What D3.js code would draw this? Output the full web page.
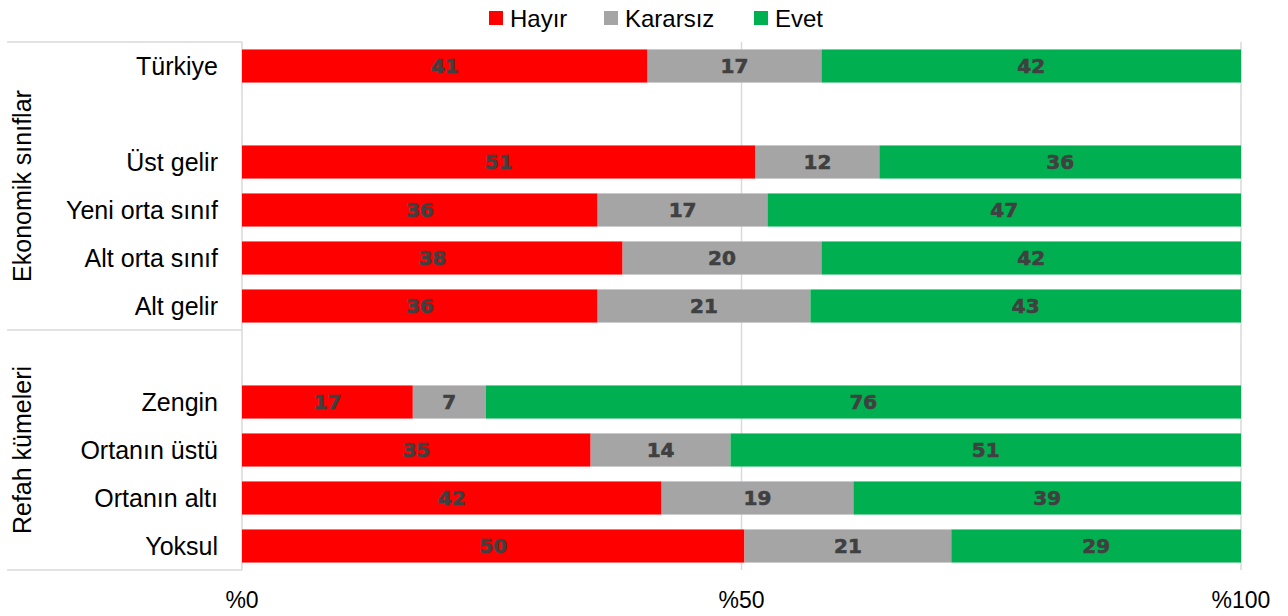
<!DOCTYPE html>
<html>
<head>
<meta charset="utf-8">
<script src="https://cdn.jsdelivr.net/npm/d3@7"></script>
<style>
  body { margin: 0; background: #fff; }
  text { font-family: "Liberation Sans", Arial, sans-serif; }
</style>
</head>
<body>
<div class="chart"></div>
<script>
// rows of the chart, top to bottom (blank slots are added between groups)
var categories = ["Türkiye", "Üst gelir", "Yeni orta sınıf", "Alt orta sınıf", "Alt gelir",
                  "Zengin", "Ortanın üstü", "Ortanın altı", "Yoksul"];
// shares in percent (labels show them rounded)
var hayir    = [40.6, 51.4, 35.6, 38.1, 35.6, 17.1, 34.9, 42.0, 50.3];
var kararsiz = [17.4, 12.4, 17.0, 19.9, 21.3,  7.3, 14.0, 19.2, 20.7];
var evet     = [42.0, 36.2, 47.4, 42.0, 43.1, 75.6, 51.1, 38.8, 29.0];

var seriesNames = ["Hayır", "Kararsız", "Evet"];
var seriesColors = ["#ff0000", "#a5a5a5", "#00b050"];
var groupNames = ["Ekonomik sınıflar", "Refah kümeleri"];
var xTicks = [0, 0.5, 1];
var xTickLabels = ["%0", "%50", "%100"];

var width = 1288, height = 616;
var margin = {top: 42, right: 47, bottom: 46, left: 242};

// slot order with empty rows between blocks
var slots = [categories[0], "gap1", categories[1], categories[2], categories[3], categories[4],
             "gap2", categories[5], categories[6], categories[7], categories[8]];

var rows = categories.map((c, i) => ({cat: c, Hayır: hayir[i], Kararsız: kararsiz[i], Evet: evet[i]}));

var x = d3.scaleLinear()
  .domain([0, 1])
  .range([margin.left, width - margin.right]);

var y = d3.scaleBand()
  .domain(slots)
  .range([margin.top, height - margin.bottom])
  .paddingInner(0.31)
  .paddingOuter(0.155);

var stack = d3.stack()
  .keys(seriesNames)
  .offset(d3.stackOffsetExpand);
var stacked = stack(rows);

var svg = d3.select(".chart").append("svg")
  .attr("width", width)
  .attr("height", height);

// slot top edge
var slotTop = key => y(key) - y.step() * y.paddingInner() / 2;
var top0 = slotTop(slots[0]);
var sep = slotTop("gap2");
var bottom = height - margin.bottom;

// gridlines
svg.append("g").selectAll("line")
  .data(xTicks)
  .enter().append("line")
    .attr("x1", d => x(d)).attr("x2", d => x(d))
    .attr("y1", top0).attr("y2", bottom)
    .attr("stroke", "#d9d9d9")
    .attr("stroke-width", 1.5);

// left category frame lines
svg.append("g").selectAll("line")
  .data([top0, sep, bottom])
  .enter().append("line")
    .attr("x1", 7).attr("x2", margin.left)
    .attr("y1", d => d).attr("y2", d => d)
    .attr("stroke", "#d9d9d9")
    .attr("stroke-width", 1.5);

// bars
var layer = svg.append("g").selectAll("g")
  .data(stacked)
  .enter().append("g")
    .attr("fill", (d, i) => seriesColors[i]);

layer.selectAll("rect")
  .data(d => d)
  .enter().append("rect")
    .attr("x", d => x(d[0]))
    .attr("width", d => x(d[1]) - x(d[0]))
    .attr("y", d => y(d.data.cat))
    .attr("height", y.bandwidth());

// data labels
layer.selectAll("text")
  .data((d) => d.map(v => ({v: v, key: d.key})))
  .enter().append("text")
    .attr("x", d => (x(d.v[0]) + x(d.v[1])) / 2)
    .attr("y", d => y(d.v.data.cat) + y.bandwidth() / 2)
    .attr("dy", "0.36em")
    .attr("text-anchor", "middle")
    .style("font-family", "'DejaVu Sans', sans-serif")
    .style("font-weight", "bold")
    .style("font-size", "20px")
    .attr("fill", "#404040")
    .attr("stroke", "#404040")
    .attr("stroke-width", 0.6)
    .text(d => Math.round(d.v.data[d.key]));

// category labels
svg.append("g").selectAll("text")
  .data(categories)
  .enter().append("text")
    .attr("x", margin.left - 24)
    .attr("y", d => y(d) + y.bandwidth() / 2)
    .attr("dy", "0.35em")
    .attr("text-anchor", "end")
    .style("font-size", "25px")
    .attr("fill", "#000")
    .text(d => d);

// group labels
var groupSpans = [[top0, sep], [sep, bottom]];
svg.append("g").selectAll("text")
  .data(groupNames)
  .enter().append("text")
    .attr("transform", (d, i) => `translate(31, ${(groupSpans[i][0] + groupSpans[i][1]) / 2}) rotate(-90)`)
    .attr("text-anchor", "middle")
    .style("font-size", "25px")
    .attr("fill", "#000")
    .text(d => d);

// x axis labels
svg.append("g").selectAll("text")
  .data(xTicks)
  .enter().append("text")
    .attr("x", d => x(d))
    .attr("y", 608)
    .attr("text-anchor", "middle")
    .style("font-size", "23px")
    .attr("fill", "#000")
    .text((d, i) => xTickLabels[i]);

// legend
var legendX = [489, 604, 754];
var legend = svg.append("g").selectAll("g")
  .data(seriesNames)
  .enter().append("g")
    .attr("transform", (d, i) => `translate(${legendX[i]}, 11)`);
legend.append("rect")
  .attr("width", 14).attr("height", 14)
  .attr("fill", (d, i) => seriesColors[i]);
legend.append("text")
  .attr("x", 21)
  .attr("y", 7)
  .attr("dy", "0.36em")
  .style("font-size", "24px")
  .attr("fill", "#000")
  .text(d => d);
</script>
</body>
</html>
